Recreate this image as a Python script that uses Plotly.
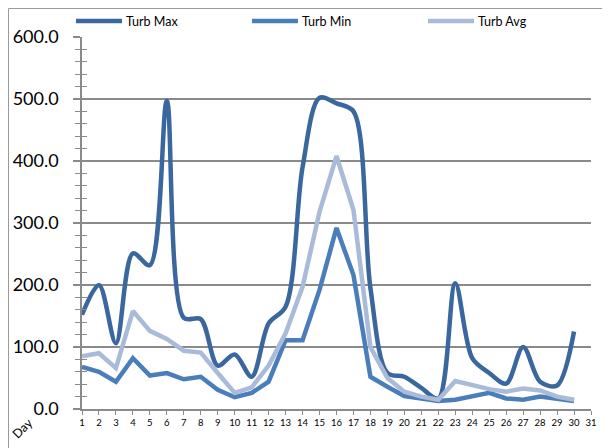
import plotly.graph_objects as go

days = list(range(1, 31))
turb_max = [152, 200, 106, 251, 232, 497, 147, 145, 70, 88, 52, 138, 165, 390, 502,
            493, 480, 195, 58, 52, 34, 17, 203, 82, 58, 41, 100, 44, 38, 125]
turb_min = [68, 60, 44, 82, 54, 58, 48, 52, 31, 19, 26, 44, 111, 111, 192,
            292, 216, 52, 36, 21, 17, 13, 15, 20, 26, 17, 15, 20, 16, 13]
turb_avg = [85, 90, 66, 158, 126, 113, 94, 91, 58, 26, 35, 70, 122, 197, 318,
            408, 321, 100, 50, 28, 20, 15, 45, 39, 32, 28, 33, 30, 20, 15]

series_names = ["Turb Max", "Turb Min", "Turb Avg"]
series_colors = ["#3A679E", "#4A7EBB", "#A9BBD8"]

FONT = "Lato, 'Liberation Sans', sans-serif"
GRID = "#8a8a8a"

# the page body has an 8px margin, so the figure is made smaller and
# screen positions are shifted by that amount
OFF = 8
FW, FH = 610 - OFF, 448 - OFF

# plot area in screen pixels
L, R, T, B = 82, 591, 37, 409
W, H = R - L, B - T


def px(x):
    return (x - L) / W


def py(y):
    return (B - y) / H


fig = go.Figure()
fig.add_trace(go.Scatter(x=days, y=turb_max, name=series_names[0], mode="lines",
                         line=dict(color=series_colors[0], width=4.5, shape="spline", smoothing=0.9)))
fig.add_trace(go.Scatter(x=days, y=turb_min, name=series_names[1], mode="lines",
                         line=dict(color=series_colors[1], width=4.5)))
fig.add_trace(go.Scatter(x=days, y=turb_avg, name=series_names[2], mode="lines",
                         line=dict(color=series_colors[2], width=4.5)))

# second y axis only to draw the inner half of the crossing tick marks
fig.add_trace(go.Scatter(x=[1], y=[0], yaxis="y2", showlegend=False,
                         mode="markers", marker=dict(opacity=0), hoverinfo="skip"))

fig.update_layout(
    width=FW, height=FH,
    margin=dict(l=L - OFF, r=FW - (R - OFF), t=T - OFF, b=FH - (B - OFF), autoexpand=False),
    paper_bgcolor="white", plot_bgcolor="white",
    font=dict(family=FONT, color="black"),
    showlegend=False,
    xaxis=dict(range=[1, 31], tickmode="linear", tick0=1, dtick=1, automargin=False,
               showgrid=False, zeroline=False, showline=True, linecolor=GRID, linewidth=1.5,
               ticks="outside", ticklen=4, tickcolor=GRID, tickwidth=1,
               tickfont=dict(size=9.5, family=FONT)),
    yaxis=dict(range=[0, 600], tickmode="linear", tick0=0, dtick=100, automargin=False,
               tickformat=".1f", showgrid=True, gridcolor=GRID, gridwidth=1.5,
               zeroline=False, showline=True, linecolor=GRID, linewidth=1.5,
               ticks="outside", ticklen=7, tickcolor=GRID, tickwidth=1.5,
               ticklabelstandoff=11,
               minor=dict(dtick=20, ticks="outside", ticklen=5, tickcolor=GRID, tickwidth=1),
               tickfont=dict(size=18, family=FONT)),
    yaxis2=dict(range=[0, 600], overlaying="y", side="left", showgrid=False, automargin=False,
                zeroline=False, showticklabels=False, tickmode="linear", dtick=20,
                ticks="inside", ticklen=5, tickcolor=GRID, tickwidth=1),
)

# legend drawn by hand so the three entries sit on one row like the original
for i, (name, color) in enumerate(zip(series_names, series_colors)):
    x0 = 76 + i * 176
    fig.add_shape(type="line", xref="paper", yref="paper",
                  x0=px(x0), x1=px(x0 + 46), y0=py(21), y1=py(21),
                  line=dict(color=color, width=4.5))
    fig.add_annotation(text=name, xref="paper", yref="paper", x=px(x0 + 48), y=py(21),
                       xanchor="left", yanchor="middle", showarrow=False,
                       font=dict(size=12.5, family=FONT))

fig.add_annotation(text="Day", xref="paper", yref="paper", x=px(22), y=py(428),
                   xanchor="center", yanchor="middle",
                   showarrow=False, textangle=-45, font=dict(size=12.5, family=FONT))

# chart frame (kept inside the figure, which starts 8px into the page)
fig.add_shape(type="rect", xref="paper", yref="paper",
              x0=px(8.5), x1=px(607.5), y0=py(470), y1=py(8.5),
              line=dict(color="#9a9a9a", width=1))

fig.write_html("out.html")
